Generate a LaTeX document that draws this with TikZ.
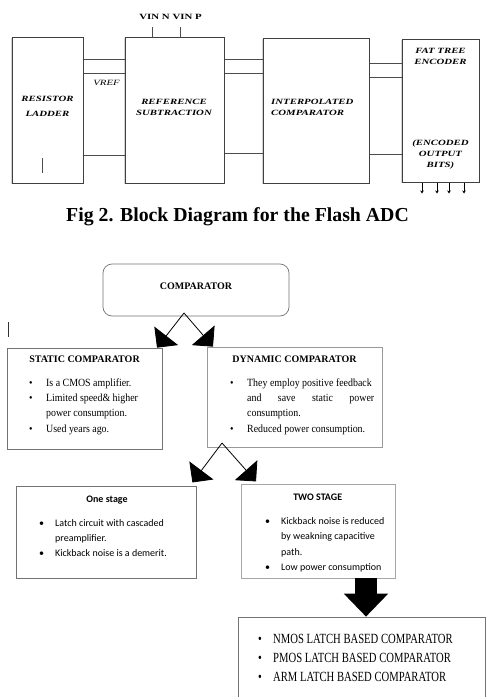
\documentclass[tikz,border=0pt]{standalone}
\usepackage{fontspec}
\setmainfont{Liberation Serif}
\newfontfamily\widefont[FakeStretch=1.35]{Liberation Serif}
\newfontfamily\narrowfont[FakeStretch=0.9]{Liberation Serif}
\newfontfamily\condfont[FakeStretch=0.76]{Liberation Serif}
\newfontfamily\calibrifont{Carlito}
\usetikzlibrary{arrows.meta,shadows}

\begin{document}
\begin{tikzpicture}[
    x=1pt,
    y=-1pt,
    every node/.style={inner sep=0pt},
    block/.style={draw=black!75, line width=1pt, fill=white,
      drop shadow={shadow xshift=-1.2pt, shadow yshift=-1.2pt, opacity=0.35}},
    blocktext/.style={font=\widefont\bfseries\itshape\fontsize{8}{11}\selectfont, align=center},
    wire/.style={draw=black!70, line width=0.9pt},
    card/.style={draw=black!55, line width=0.7pt, fill=white},
    cardtitle/.style={font=\bfseries\fontsize{10}{12}\selectfont},
    sanstitle/.style={font=\calibrifont\bfseries\fontsize{10}{12}\selectfont},
    serifitems/.style={font=\narrowfont\fontsize{11}{15.2}\selectfont},
    sansitems/.style={font=\calibrifont\fontsize{10}{14.8}\selectfont},
    branch/.style={draw=black, line width=0.8pt, -{Triangle[length=15pt,width=30pt]}},
    bigarrow/.style={draw=black, line width=22pt, -{Triangle[length=23pt,width=43pt]}}
  ]
    \useasboundingbox (0,0) rectangle (495,697);

    % flash ADC blocks
    \node[block, minimum width=71, minimum height=146] (ladder) at (47.5,110) {};
    \node[block, minimum width=99, minimum height=146] (refsub) at (174.5,110) {};
    \node[block, minimum width=106, minimum height=145] (interp) at (316,110.5) {};
    \node[block, minimum width=77, minimum height=143] (encoder) at (440.5,110.5) {};

    \node[blocktext] (laddertxt) at (47.5,106.5) {RESISTOR\\[4pt]LADDER};
    \node[blocktext] (refsubtxt) at (174,107) {REFERENCE\\SUBTRACTION};
    \node[blocktext, align=left, anchor=west] (interptxt) at (271,107) {INTERPOLATED\\COMPARATOR};
    \node[blocktext] (enctop) at (440.5,56.3) {FAT TREE\\ENCODER};
    \node[blocktext] (encbottom) at (440.5,155) {(ENCODED\\OUTPUT\\BITS)};
    \draw[black!70, line width=0.7pt] (42,158) -- (42,173);

    \foreach \yy in {59,73,155}
      \draw[wire] (ladder.east |- 0,\yy) -- (refsub.west |- 0,\yy);
    \foreach \yy in {59,73,153}
      \draw[wire] (refsub.east |- 0,\yy) -- (interp.west |- 0,\yy);
    \foreach \yy in {63,77,154}
      \draw[wire] (interp.east |- 0,\yy) -- (encoder.west |- 0,\yy);
    \node[font=\widefont\itshape\fontsize{8}{10}\selectfont] (vref) at (106.5,83) {VREF};

    \node[font=\widefont\bfseries\fontsize{8}{10}\selectfont] (vin) at (170.5,17) {VIN N\hspace{3pt}VIN P};
    \draw[wire] (refsub.north -| 152,0) -- ++(0,-10);
    \draw[wire] (refsub.north -| 180,0) -- ++(0,-10);

    \foreach \xx in {422,437,449,464}
      \draw[line width=0.6pt, -{Stealth[length=3pt,width=3.5pt]}] (encoder.south -| \xx,0) -- ++(0,11);

    \node[font=\bfseries\fontsize{19.8}{22}\selectfont, anchor=base] (caption) at (237.5,221)
      {Fig 2. Block Diagram for the Flash ADC};

    % comparator classification
    \node[card, rounded corners=9pt, minimum width=186, minimum height=52, text depth=8pt,
      font=\bfseries\fontsize{10}{12}\selectfont] (comp) at (196,290) {COMPARATOR};
    \draw[black!80, line width=0.8pt] (8,322) -- (8,337);

    \node[card, minimum width=155, minimum height=101] (static) at (84.5,398.5) {};
    \node[cardtitle, anchor=base] (statictitle) at (84.5,362.5) {STATIC COMPARATOR};
    \node[serifitems, anchor=base west] (staticlist) at (29,386.5) {%
      \begin{tabular}[t]{@{}p{17pt}@{}l@{}}
        \textbullet & Is a CMOS amplifier.\\
        \textbullet & Limited speed\& higher\\
                    & power consumption.\\
        \textbullet & Used years ago.
      \end{tabular}};

    \node[card, draw=black!40, minimum width=175, minimum height=100] (dynamic) at (294.5,397) {};
    \node[cardtitle, anchor=base] (dynamictitle) at (294.5,362) {DYNAMIC COMPARATOR};
    \node[serifitems, anchor=base west] (dynamiclist) at (230,386.5) {%
      \begin{tabular}[t]{@{}p{17pt}@{}p{127pt}@{}}
        \textbullet & They employ positive feedback\\
                    & and\hfill save\hfill static\hfill power\\
                    & consumption.\\
        \textbullet & Reduced power consumption.
      \end{tabular}};

    \coordinate (fork1) at (184,313);
    \draw[branch] (fork1) -- (static.north -| 157,0);
    \draw[branch] (fork1) -- (dynamic.north -| 213,0);

    \node[card, minimum width=180, minimum height=92] (onestage) at (106,532) {};
    \node[sanstitle, anchor=base] (onetitle) at (107,502.5) {One stage};
    \node[sansitems, anchor=base west] (onelist) at (39,526.5) {%
      \begin{tabular}[t]{@{}p{16pt}@{}l@{}}
        \textbullet & Latch circuit with cascaded\\
                    & preamplifier.\\
        \textbullet & Kickback noise is a demerit.
      \end{tabular}};

    \node[card, draw=black!35, minimum width=154, minimum height=94] (twostage) at (318,531) {};
    \node[sanstitle, anchor=base] (twotitle) at (317.7,500) {TWO STAGE};
    \node[sansitems, font=\calibrifont\fontsize{10}{15.3}\selectfont, anchor=base west] (twolist) at (265,524.5) {%
      \begin{tabular}[t]{@{}p{16pt}@{}l@{}}
        \textbullet & Kickback noise is reduced\\
                    & by weakning capacitive\\
                    & path.\\
        \textbullet & Low power consumption
      \end{tabular}};

    \coordinate (fork2) at (222,443);
    \draw[branch, shorten >=4pt] (fork2) -- (onestage.north -| 190,0);
    \draw[branch, shorten >=3pt] (fork2) -- (twostage.north -| 258,0);

    \node[card, minimum width=247, minimum height=86] (final) at (361.5,660) {};
    \node[font=\condfont\fontsize{14}{19}\selectfont, anchor=base west] (finallist) at (258,643.5) {%
      \begin{tabular}[t]{@{}p{15pt}@{}l@{}}
        \textbullet & NMOS LATCH BASED COMPARATOR\\
        \textbullet & PMOS LATCH BASED COMPARATOR\\
        \textbullet & ARM LATCH BASED COMPARATOR
      \end{tabular}};
    \draw[bigarrow] (twostage.south -| 366,0) -- (final.north -| 366,0);
  \end{tikzpicture}
\end{document}
